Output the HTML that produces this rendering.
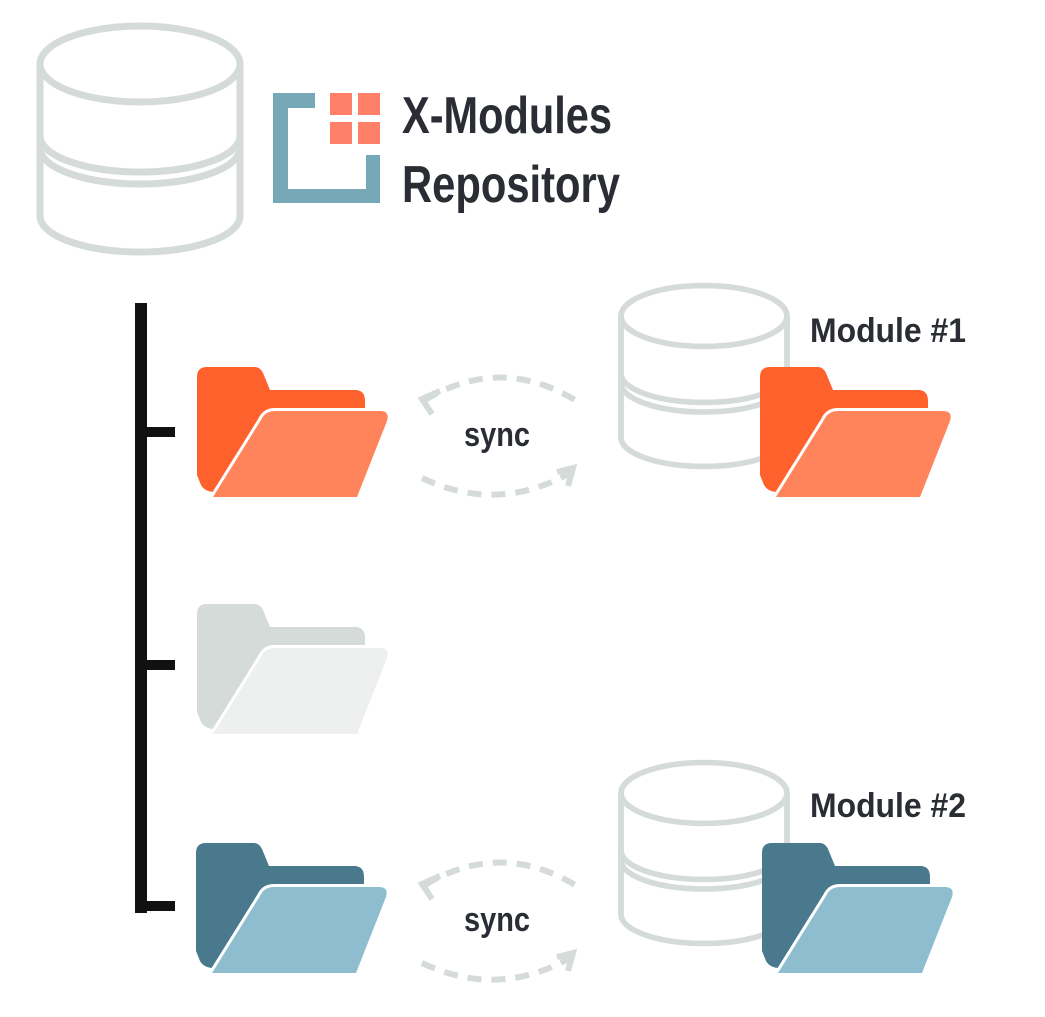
<!DOCTYPE html>
<html><head><meta charset="utf-8"><style>
html,body{margin:0;padding:0;background:#fff;}
svg{display:block;}
text{font-family:"Liberation Sans",sans-serif;font-weight:bold;fill:#2a2d34;}
</style></head><body>
<svg width="1045" height="1017" viewBox="0 0 1045 1017" xmlns="http://www.w3.org/2000/svg">
<defs>
<g id="db" fill="none" stroke="#d5dbd8" stroke-width="7">
  <ellipse cx="0" cy="0" rx="100" ry="38"/>
  <path d="M-100,0 V72 A100,36 0 0 0 100,72 V0"/>
  <path d="M-100,72 L-100,84 A100,36 0 0 0 100,84 V72"/>
  <path d="M-100,84 V152 A100,36 0 0 0 100,152 V84"/>
</g>
<g id="sync" fill="none" stroke="#d5dbd8" stroke-width="6" stroke-dasharray="14,10">
  <path d="M425,400 Q500,355 575,400"/>
  <path d="M422,478 Q500,515 575,470"/>
</g>
</defs>

<use href="#db" transform="translate(140,64)"/>

<path d="M273,93 H315 V108 H288 V189 H366 V155 H380 V203 H273 Z" fill="#77a8b8"/>
<rect x="330" y="93" width="22" height="22" fill="#ff8068"/>
<rect x="358" y="93" width="22" height="22" fill="#ff8068"/>
<rect x="330" y="122" width="22" height="22" fill="#ff8068"/>
<rect x="358" y="122" width="22" height="22" fill="#ff8068"/>
<text x="402" y="133" font-size="52" textLength="210" lengthAdjust="spacingAndGlyphs">X-Modules</text>
<text x="402" y="202" font-size="52" textLength="218" lengthAdjust="spacingAndGlyphs">Repository</text>

<rect x="135" y="303" width="12" height="610" fill="#111"/>
<rect x="135" y="427" width="40" height="10" fill="#111"/>
<rect x="135" y="660" width="40" height="10" fill="#111"/>
<rect x="135" y="901" width="40" height="10" fill="#111"/>

<g transform="translate(197,367)">
  <path d="M0,10 Q0,0 10,0 H58 Q63,0 66,6 L73,23 H158 Q168,23 168,34 V70 H60 L18,125 Q8,125 4,118 L0,108 Z" fill="#ff612c"/>
  <path d="M64,53 Q68,44 78,44 H183 Q193,44 190,54 L160,130 H16 Z" fill="#ff845c" stroke="#fff" stroke-width="6" paint-order="stroke"/>
</g>
<g transform="translate(197,604)">
  <path d="M0,10 Q0,0 10,0 H58 Q63,0 66,6 L73,23 H158 Q168,23 168,34 V70 H60 L18,125 Q8,125 4,118 L0,108 Z" fill="#d5dbd8"/>
  <path d="M64,53 Q68,44 78,44 H183 Q193,44 190,54 L160,130 H16 Z" fill="#edf0ef" stroke="#fff" stroke-width="6" paint-order="stroke"/>
</g>
<g transform="translate(196,843)">
  <path d="M0,10 Q0,0 10,0 H58 Q63,0 66,6 L73,23 H158 Q168,23 168,34 V70 H60 L18,125 Q8,125 4,118 L0,108 Z" fill="#4a788c"/>
  <path d="M64,53 Q68,44 78,44 H183 Q193,44 190,54 L160,130 H16 Z" fill="#8fbdd0" stroke="#fff" stroke-width="6" paint-order="stroke"/>
</g>

<use href="#sync"/>
<path d="M440,391 L422,399 L432,414" fill="none" stroke="#d5dbd8" stroke-width="6"/>
<path d="M557,472 L573,468 L568,486" fill="none" stroke="#d5dbd8" stroke-width="6"/>
<text x="497" y="446" font-size="34" text-anchor="middle" textLength="66" lengthAdjust="spacingAndGlyphs">sync</text>

<use href="#sync" transform="translate(0,485)"/>
<path d="M440,876 L422,884 L432,899" fill="none" stroke="#d5dbd8" stroke-width="6"/>
<path d="M557,957 L573,953 L568,971" fill="none" stroke="#d5dbd8" stroke-width="6"/>
<text x="497" y="931" font-size="34" text-anchor="middle" textLength="66" lengthAdjust="spacingAndGlyphs">sync</text>

<use href="#db" transform="translate(704,316) scale(0.83,0.8)"/>
<text x="810" y="342" font-size="34" textLength="156" lengthAdjust="spacingAndGlyphs">Module #1</text>
<g transform="translate(760,367)">
  <path d="M0,10 Q0,0 10,0 H58 Q63,0 66,6 L73,23 H158 Q168,23 168,34 V70 H60 L18,125 Q8,125 4,118 L0,108 Z" fill="#ff612c"/>
  <path d="M64,53 Q68,44 78,44 H183 Q193,44 190,54 L160,130 H16 Z" fill="#ff845c" stroke="#fff" stroke-width="6" paint-order="stroke"/>
</g>

<use href="#db" transform="translate(704,793) scale(0.83,0.8)"/>
<text x="810" y="817" font-size="34" textLength="156" lengthAdjust="spacingAndGlyphs">Module #2</text>
<g transform="translate(762,843)">
  <path d="M0,10 Q0,0 10,0 H58 Q63,0 66,6 L73,23 H158 Q168,23 168,34 V70 H60 L18,125 Q8,125 4,118 L0,108 Z" fill="#4a788c"/>
  <path d="M64,53 Q68,44 78,44 H183 Q193,44 190,54 L160,130 H16 Z" fill="#8fbdd0" stroke="#fff" stroke-width="6" paint-order="stroke"/>
</g>
</svg>
</body></html>
